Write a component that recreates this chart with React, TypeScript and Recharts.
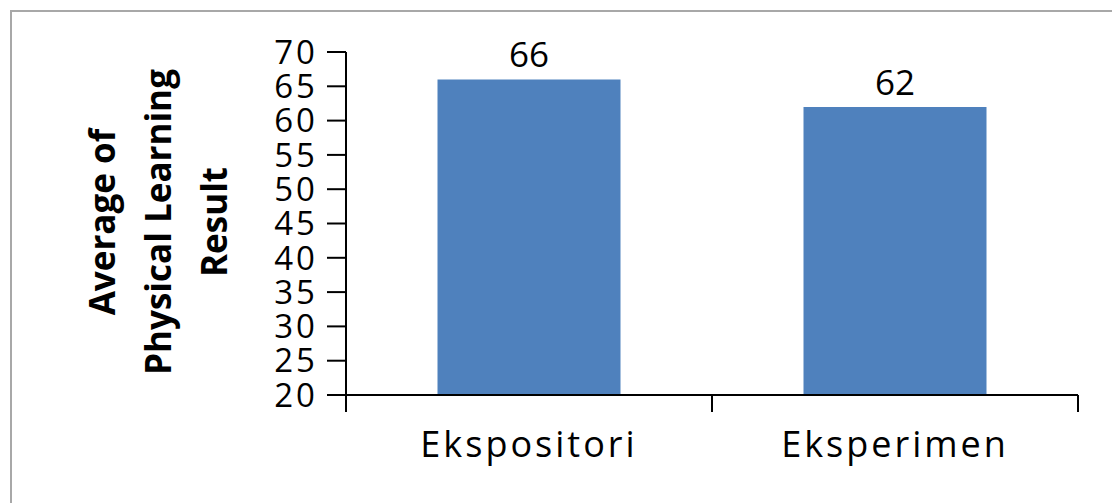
import { BarChart, Bar, XAxis, YAxis, LabelList } from "recharts";

const categories = ["Ekspositori", "Eksperimen"];
const averages = [66, 62];
const yTicks = [20, 25, 30, 35, 40, 45, 50, 55, 60, 65, 70];
const yLabelLines = ["Average of", "Physical Learning", "Result"];

const data = categories.map((name, i) => ({ name, value: averages[i] }));

const FONT = "'Open Sans', 'Liberation Sans', sans-serif";

function XTick(props: any) {
  const { x, y, payload, index } = props;
  const half = payload?.offset ?? 0;
  const left = x - half;
  const right = x + half;
  return (
    <g>
      <line x1={left} y1={y} x2={left} y2={y + 17} stroke="#000" strokeWidth={2} />
      {index === categories.length - 1 && (
        <line x1={right} y1={y} x2={right} y2={y + 17} stroke="#000" strokeWidth={2} />
      )}
      <text x={x} y={y + 62} textAnchor="middle" fontFamily={FONT} fontSize={36} letterSpacing={3} fill="#000">
        {payload.value}
      </text>
    </g>
  );
}

function YLabel() {
  const cx = 171;
  const cy = 222;
  return (
    <text
      transform={`rotate(-90 ${cx} ${cy})`}
      fontFamily={FONT}
      fontWeight={700}
      fontSize={35}
      textAnchor="middle"
      fill="#000"
    >
      {yLabelLines.map((line, i) => (
        <tspan key={line} x={cx} y={cy + (i - 1) * 56}>
          {line}
        </tspan>
      ))}
    </text>
  );
}

export default function App() {
  return (
    <div style={{ position: "relative", width: 1112, height: 503, overflow: "hidden", background: "#fff" }}>
      <style>{`body{margin:0}`}</style>
      <div
        style={{
          position: "absolute",
          left: 10,
          top: 10,
          width: 1200,
          height: 600,
          borderTop: "2px solid #a8a8a8",
          borderLeft: "2px solid #a8a8a8",
        }}
      />
      <div style={{ position: "absolute", left: 0, top: 0 }}>
        <BarChart
          width={1112}
          height={503}
          data={data}
          margin={{ top: 52, right: 34, bottom: 0, left: 0 }}
          barCategoryGap="25%"
        >
          <XAxis
            dataKey="name"
            height={108}
            axisLine={{ stroke: "#000", strokeWidth: 2 }}
            tickLine={false}
            tickSize={0}
            tickMargin={0}
            interval={0}
            tick={<XTick />}
          />
          <YAxis
            width={346}
            domain={[20, 70]}
            ticks={yTicks}
            interval={0}
            axisLine={{ stroke: "#000", strokeWidth: 2 }}
            tickLine={{ stroke: "#000", strokeWidth: 2 }}
            tickSize={19}
            tickMargin={9}
            tick={{ fontFamily: FONT, fontSize: 33, fill: "#000", letterSpacing: 3 }}
            label={<YLabel />}
          />
          <Bar dataKey="value" fill="#4f81bd" isAnimationActive={false}>
            <LabelList
              dataKey="value"
              position="top"
              offset={12}
              fill="#000"
              fontFamily={FONT}
              fontSize={35}
            />
          </Bar>
        </BarChart>
      </div>
    </div>
  );
}
